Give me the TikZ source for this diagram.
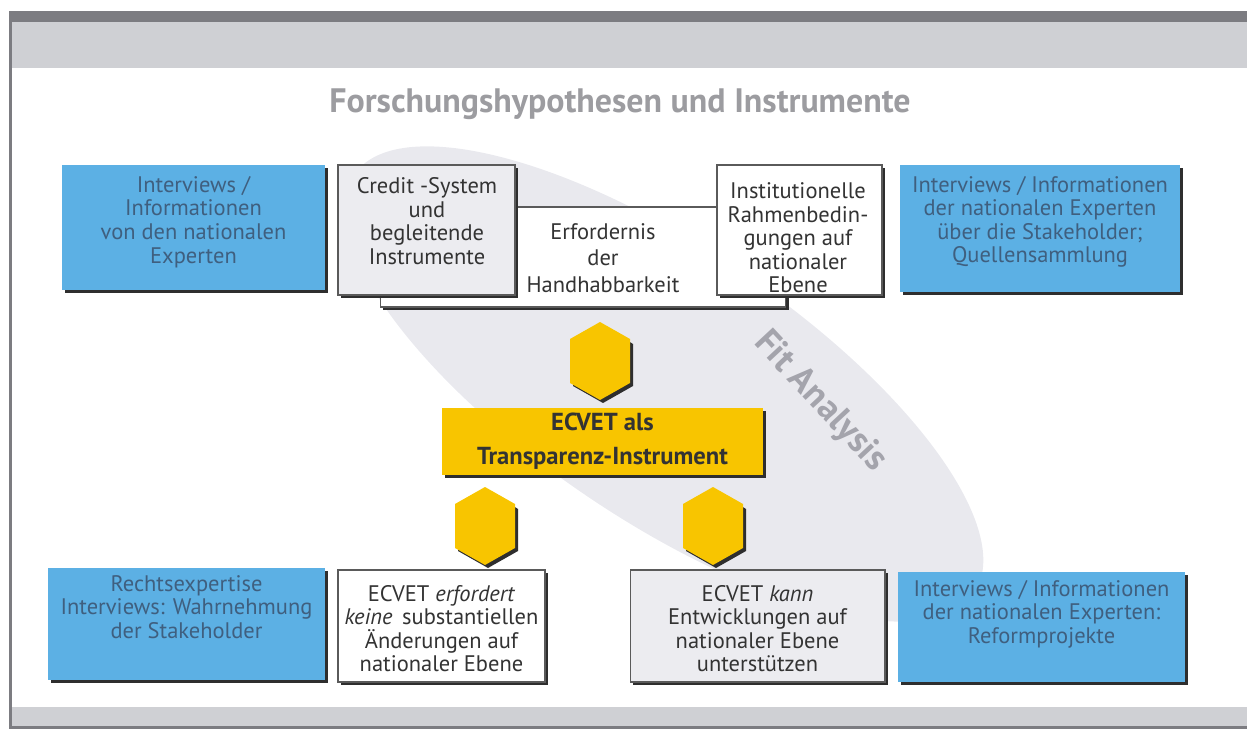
\documentclass[tikz,border=0pt]{standalone}
\usepackage{fontspec}
\setmainfont{PT Sans}
\usetikzlibrary{shadows}

\definecolor{framedark}{HTML}{7C7C81}
\definecolor{framelight}{HTML}{CFD0D4}
\definecolor{ellgrey}{HTML}{E9E9EE}
\definecolor{titlegrey}{HTML}{9C9CA0}
\definecolor{fitgrey}{HTML}{A4A4AC}
\definecolor{bluefill}{HTML}{5CB0E4}
\definecolor{bluetext}{HTML}{3F5F7F}
\definecolor{greyfill}{HTML}{ECECF0}
\definecolor{boxline}{HTML}{5A5A5A}
\definecolor{shadowcol}{HTML}{2E2E2E}
\definecolor{yellowfill}{HTML}{F8C500}
\definecolor{textdark}{HTML}{333333}

\tikzset{
  boxshadow/.style={drop shadow={shadow xshift=0.055cm, shadow yshift=-0.055cm, fill=shadowcol, opacity=1}},
  panel/.style={rectangle, inner sep=0pt, boxshadow},
  bluepanel/.style={panel, fill=bluefill},
  whitepanel/.style={panel, fill=white, draw=boxline, line width=0.6pt},
  greypanel/.style={panel, fill=greyfill, draw=boxline, line width=0.6pt},
  bluelabel/.style={align=center, inner sep=0pt, text=bluetext, font=\fontsize{12.8}{13.4}\selectfont},
  darklabel/.style={align=center, inner sep=0pt, text=textdark, font=\fontsize{12.8}{13.4}\selectfont},
  keybox/.style={panel, fill=yellowfill, align=center, text=textdark, font=\bfseries\fontsize{14}{19.5}\selectfont},
  hexfill/.style={fill=yellowfill},
  hexshadow/.style={fill=shadowcol},
  pics/hexa/.style={code={
    \fill[hexshadow] (3,-36) -- (33,-17) -- (33,25) -- (3,42) -- (-27,25) -- (-27,-17) -- cycle;
    \fill[hexfill] (0,-39) -- (30,-22) -- (30,22) -- (0,39) -- (-30,22) -- (-30,-22) -- cycle;
  }}
}

\begin{document}
\begin{tikzpicture}[x=0.02cm, y=-0.02cm]
  \useasboundingbox (0,0) rectangle (1247,729);

  % page frame: header bands, left rule, footer band
  \fill[framedark] (9,11) rectangle (1247,22);
  \fill[framelight] (11,22) rectangle (1247,68);
  \fill[framedark] (9,11) rectangle (11.5,729);
  \fill[framelight] (11.5,707) rectangle (1247,726);
  \fill[framedark] (9,726) rectangle (1247,729);

  % background ellipse of the fit analysis
  \fill[ellgrey, rotate around={-34:(664,384)}] (664,384) ellipse (374 and 136);
  \node[text=fitgrey, font=\bfseries\fontsize{20.5}{24}\selectfont, rotate=-47] (fit) at (820,402) {Fit Analysis};

  % title
  \node[text=titlegrey, font=\bfseries\fontsize{19.3}{22}\selectfont] (title) at (620,104) {Forschungshypothesen und Instrumente};

  % upper row
  \node[bluepanel, minimum width=5.26cm, minimum height=2.5cm] (tl) at (193.5,227.5) {};
  \node[bluelabel] (tltext) at (193.5,222) {Interviews /\\Informationen\\von den nationalen\\Experten};

  \node[whitepanel, minimum width=8.12cm, minimum height=2.0cm] (mid) at (583,257) {};
  \node[darklabel, font=\fontsize{12.8}{15}\selectfont] (midtext) at (603,258) {Erfordernis\\der\\Handhabbarkeit};

  \node[greypanel, minimum width=3.54cm, minimum height=2.6cm] (credit) at (426.5,230) {};
  \node[darklabel] (credittext) at (427,221) {Credit -System\\und\\begleitende\\Instrumente};

  \node[whitepanel, minimum width=3.3cm, minimum height=2.6cm] (inst) at (799.5,230) {};
  \node[darklabel] (insttext) at (798,238) {Institutionelle\\Rahmenbedin-\\gungen auf\\nationaler\\Ebene};

  \node[bluepanel, minimum width=5.6cm, minimum height=2.54cm] (tr) at (1040,228.5) {};
  \node[bluelabel] (trtext) at (1040,222) {Interviews / Informationen\\der nationalen Experten\\über die Stakeholder;\\Quellensammlung};

  % hexagons and the central element
  \pic at (600,361) {hexa};
  \node[keybox, minimum width=6.42cm, minimum height=1.34cm] (ecvet) at (602.5,441.5) {ECVET als\\Transparenz-Instrument};
  \pic at (485,526) {hexa};
  \pic at (713,526) {hexa};

  % lower row
  \node[bluepanel, minimum width=5.54cm, minimum height=2.24cm] (bl) at (186.5,624) {};
  \node[bluelabel] (bltext) at (186.5,607) {Rechtsexpertise\\Interviews: Wahrnehmung\\der Stakeholder};

  \node[whitepanel, minimum width=4.14cm, minimum height=2.24cm] (req) at (441.5,626) {};
  \node[darklabel] (reqtext) at (441.5,628.5) {ECVET \textit{erfordert}\\\textit{keine}\, substantiellen\\Änderungen auf\\nationaler Ebene};

  \node[greypanel, minimum width=5.1cm, minimum height=2.24cm] (can) at (757.5,626) {};
  \node[darklabel] (cantext) at (757.5,628.5) {ECVET \textit{kann}\\Entwicklungen auf\\nationaler Ebene\\unterstützen};

  \node[bluepanel, minimum width=5.74cm, minimum height=2.2cm] (br) at (1041.5,627) {};
  \node[bluelabel] (brtext) at (1041.5,614) {Interviews / Informationen\\der nationalen Experten:\\Reformprojekte};
\end{tikzpicture}
\end{document}
